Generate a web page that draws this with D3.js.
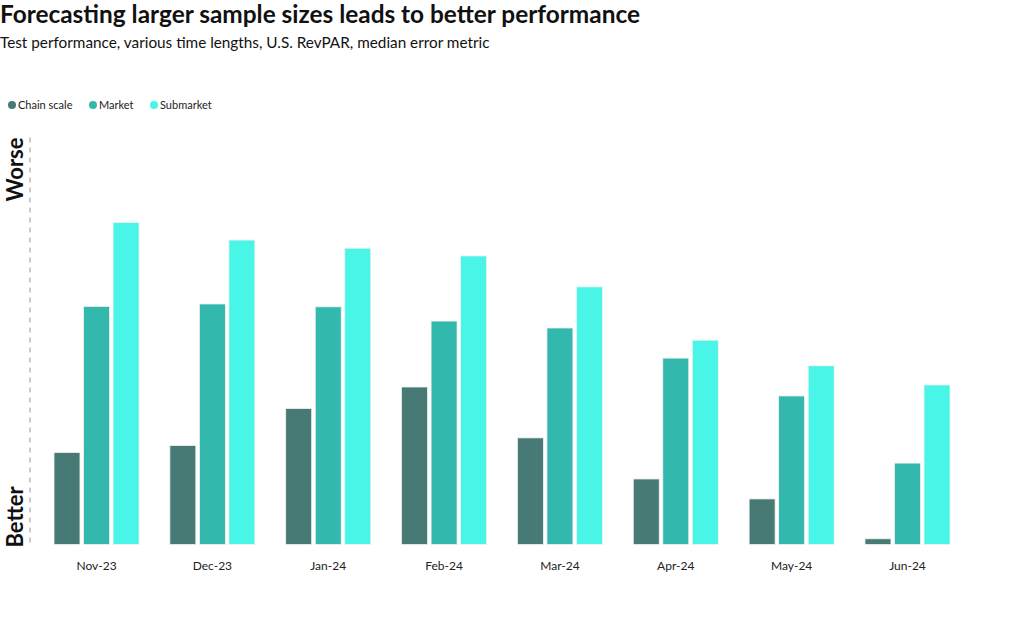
<!DOCTYPE html>
<html><head><meta charset="utf-8">
<script src="https://cdn.jsdelivr.net/npm/d3@7"></script>
<style>
body{margin:0;background:#fff;}
text{font-family:"Lato","Noto Sans",sans-serif;}
</style></head>
<body>
<svg id="chart" width="1020" height="621"></svg>
<script>
const categories = ["Nov-23","Dec-23","Jan-24","Feb-24","Mar-24","Apr-24","May-24","Jun-24"];
const seriesNames = ["Chain scale","Market","Submarket"];
const chainScale = [2.26,2.43,3.34,3.87,2.62,1.61,1.12,0.14];
const market     = [5.85,5.91,5.84,5.49,5.32,4.58,3.65,2.00];
const submarket  = [7.91,7.48,7.28,7.09,6.33,5.02,4.39,3.92];
const colors = ["#477a75","#32b8ac","#49f5e7"];
const yLabels = ["Better","Worse"];

const seriesValues = [chainScale, market, submarket];
const data = categories.map((c,i)=>({cat:c, vals: seriesNames.map((s,j)=>({s, v: seriesValues[j][i], j}))}));

const svg = d3.select("#chart");

svg.append("text").attr("x",0).attr("y",23).attr("font-size",24.4).attr("font-weight",700)
  .attr("fill","#111").text("Forecasting larger sample sizes leads to better performance");
svg.append("text").attr("x",0).attr("y",48).attr("font-size",15.3).attr("fill","#111")
  .text("Test performance, various time lengths, U.S. RevPAR, median error metric");

// legend
const legX = [12,93,154];
const leg = svg.append("g");
seriesNames.forEach((s,i)=>{
  leg.append("circle").attr("cx",legX[i]).attr("cy",105).attr("r",4).attr("fill",colors[i]);
  leg.append("text").attr("x",legX[i]+6).attr("y",109).attr("font-size",11).attr("fill","#222").text(s);
});

const x0 = d3.scaleBand().domain(categories).range([54,950]).paddingInner(0.266).paddingOuter(0);
const x1 = d3.scaleBand().domain(seriesNames).range([0,x0.bandwidth()]).paddingInner(0.12);
const y = d3.scaleLinear().domain([0,10]).range([544.5,137.5]);

// y axis dashed line
svg.append("line").attr("x1",30).attr("x2",30).attr("y1",y(10)).attr("y2",y(0))
  .attr("stroke","#aaa").attr("stroke-width",1.2).attr("stroke-dasharray","5,5");

svg.append("text").attr("transform",`translate(23,${y(0)+3}) rotate(-90)`)
  .attr("font-size",22).attr("font-weight",700).attr("fill","#111").text(yLabels[0]);
svg.append("text").attr("transform",`translate(23,${y(10)}) rotate(-90)`)
  .attr("text-anchor","end")
  .attr("font-size",22).attr("font-weight",700).attr("fill","#111").text(yLabels[1]);

const g = svg.append("g");
const groups = g.selectAll("g.grp").data(data).join("g").attr("class","grp")
  .attr("transform",d=>`translate(${x0(d.cat)},0)`);
groups.selectAll("rect").data(d=>d.vals).join("rect")
  .attr("x",d=>x1(d.s)).attr("width",x1.bandwidth())
  .attr("y",d=>y(d.v)).attr("height",d=>y(0)-y(d.v))
  .attr("fill",d=>colors[d.j]).attr("stroke","#f2f2f2").attr("stroke-width",0.8);

// x axis labels
const xAxis = d3.axisBottom(x0).tickSize(0).tickPadding(11);
const ax = svg.append("g").attr("transform",`translate(0,${y(0)+6})`).call(xAxis);
ax.select(".domain").remove();
ax.selectAll("text").attr("font-size",12).attr("fill","#222").style("font-family","Lato, 'Noto Sans', sans-serif");
</script>
</body></html>
